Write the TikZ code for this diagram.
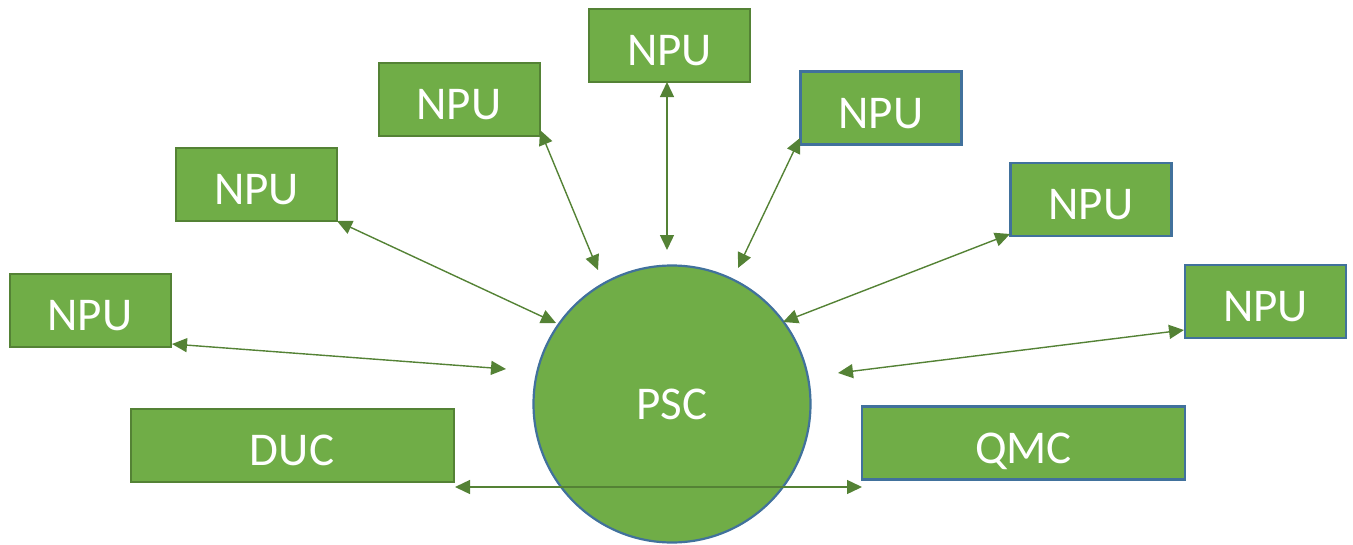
\documentclass[tikz,border=0pt]{standalone}
\usepackage{fontspec}
\setmainfont{Carlito}
\usetikzlibrary{arrows.meta}
\definecolor{gfill}{HTML}{70AD47}
\definecolor{gdark}{HTML}{548235}
\definecolor{bline}{HTML}{41719C}
\tikzset{
  box/.style={draw=gdark, fill=gfill, line width=2pt, minimum width=161pt, minimum height=73pt, inner sep=0pt, text=white, font=\fontsize{47}{50}\selectfont, text height=40pt, text depth=0pt},
  bbox/.style={box, draw=bline, line width=2.2pt},
  widebox/.style={minimum width=323pt},
  link/.style={draw=gdark, line width=1.4pt, {Triangle[length=15pt,width=14pt]}-{Triangle[length=15pt,width=14pt]}}
}
\begin{document}
\begin{tikzpicture}[x=1pt,y=-1pt]
\useasboundingbox (0,0) rectangle (1353,544);
\node[box] (n1) at (90,310) {NPU};
\node[box] (n2) at (256.5,184.5) {NPU};
\node[box] (n3) at (459,99.5) {NPU};
\node[box] (n4) at (669.5,45.5) {NPU};
\node[bbox] (n5) at (881,108) {NPU};
\node[bbox] (n6) at (1091,199.5) {NPU};
\node[bbox] (n7) at (1265.5,301.5) {NPU};
\node[box,widebox] (duc) at (292,445) {DUC};
\node[bbox,widebox] (qmc) at (1023.5,443) {QMC};
\node[circle, draw=bline, fill=gfill, line width=2.2pt, minimum size=277pt, inner sep=0pt, text=white, font=\fontsize{47}{50}\selectfont] (psc) at (672,404) {PSC};
% end points
\coordinate (a1) at (172,344); \coordinate (b1) at (506,369);
\coordinate (a2) at (337,221); \coordinate (b2) at (556,323);
\coordinate (a3) at (540,130); \coordinate (b3) at (598,270);
\coordinate (a4) at (667,82);  \coordinate (b4) at (667,250);
\coordinate (a5) at (800,138); \coordinate (b5) at (738,268);
\coordinate (a6) at (1010,234); \coordinate (b6) at (783,322);
\coordinate (a7) at (1184,330); \coordinate (b7) at (838,373);
\coordinate (a8) at (455,487); \coordinate (b8) at (862,487);
\draw[link] (a1) -- (b1);
\draw[link] (a2) -- (b2);
\draw[link] (a3) -- (b3);
\draw[link] (a4) -- (b4);
\draw[link] (a5) -- (b5);
\draw[link] (a6) -- (b6);
\draw[link] (a7) -- (b7);
\draw[link] (a8) -- (b8);
\end{tikzpicture}
\end{document}
